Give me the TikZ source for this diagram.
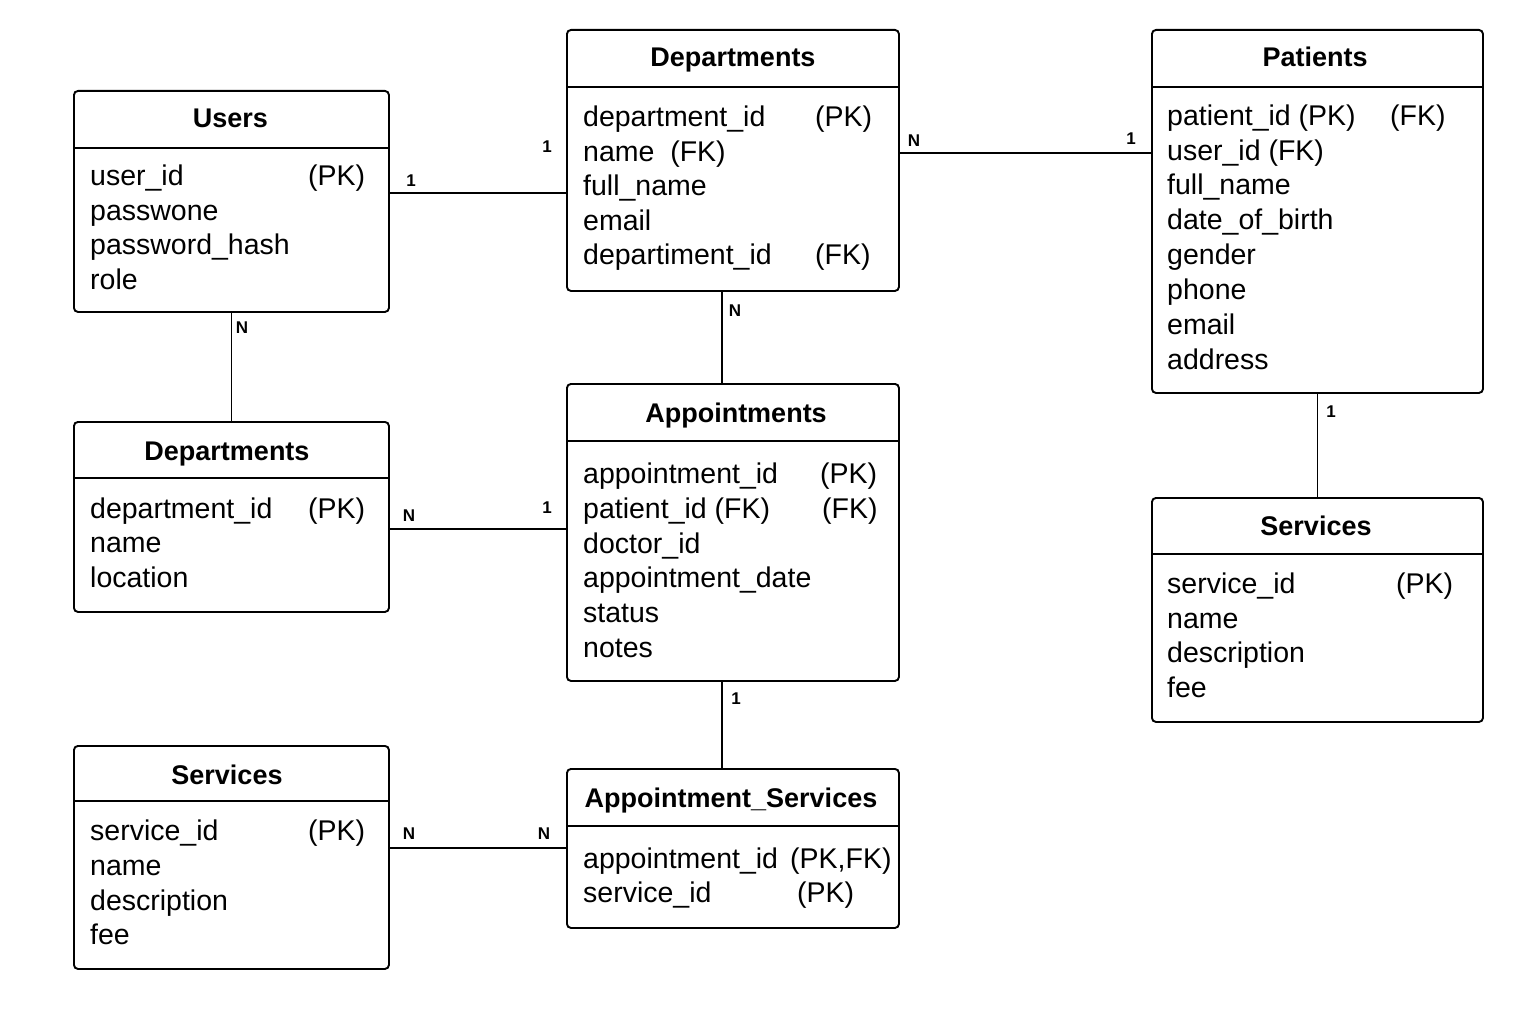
\documentclass[tikz,border=0pt]{standalone}
\usepackage{fontspec}
\setmainfont{Liberation Sans}
\begin{document}
\begin{tikzpicture}[x=1pt,y=-1pt,
  tbl/.style={draw, line width=1.9pt, rounded corners=4pt, anchor=north west, inner sep=0pt, fill=white},
  divl/.style={line width=1.6pt},
  ttl/.style={font=\bfseries\fontsize{27}{31}\selectfont, anchor=base, inner sep=0pt},
  fld/.style={font=\fontsize{28.5}{33}\selectfont, anchor=base west, inner sep=0pt},
  card/.style={font=\bfseries\fontsize{17}{19}\selectfont, inner sep=0pt, anchor=center},
  conn/.style={line width=1.5pt}]
\useasboundingbox (0,0) rectangle (1536,1024);
\fill[white] (0,0) rectangle (1536,1024);

% ---------- tables ----------
% Users
\node[tbl, minimum width=315pt, minimum height=221pt] (users) at (73,90) {};
\draw[divl] (73,148) -- (388,148);
\node[ttl] (usersT) at (230.5,128) {Users};
\node[fld] (u1) at (90,186) {user\_id};
\node[fld] (u1k) at (308,186) {(PK)};
\node[fld] (u2) at (90,221) {passwone};
\node[fld] (u3) at (90,255) {password\_hash};
\node[fld] (u4) at (90,290) {role};

% Departments (top)
\node[tbl, minimum width=332pt, minimum height=261pt] (dtop) at (566,29) {};
\draw[divl] (566,87) -- (898,87);
\node[ttl] (dtopT) at (733,67) {Departments};
\node[fld] (d1) at (583,127) {department\_id};
\node[fld] (d1k) at (815,127) {(PK)};
\node[fld] (d2) at (583,162) {name\ \ (FK)};
\node[fld] (d3) at (583,196) {full\_name};
\node[fld] (d4) at (583,231) {email};
\node[fld] (d5) at (583,265) {departiment\_id};
\node[fld] (d5k) at (815,265) {(FK)};

% Patients
\node[tbl, minimum width=331pt, minimum height=363pt] (pat) at (1151,29) {};
\draw[divl] (1151,87) -- (1482,87);
\node[ttl] (patT) at (1315,67) {Patients};
\node[fld] (p1) at (1167,126) {patient\_id\ (PK)};
\node[fld] (p1k) at (1390,126) {(FK)};
\node[fld] (p2) at (1167,161) {user\_id (FK)};
\node[fld] (p3) at (1167,195) {full\_name};
\node[fld] (p4) at (1167,230) {date\_of\_birth};
\node[fld] (p5) at (1167,265) {gender};
\node[fld] (p6) at (1167,299) {phone};
\node[fld] (p7) at (1167,334) {email};
\node[fld] (p8) at (1167,369) {address};

% Departments (left)
\node[tbl, minimum width=315pt, minimum height=190pt] (dleft) at (73,421) {};
\draw[divl] (73,478) -- (388,478);
\node[ttl] (dleftT) at (227,460) {Departments};
\node[fld] (l1) at (90,518) {department\_id};
\node[fld] (l1k) at (308,518) {(PK)};
\node[fld] (l2) at (90,552) {name};
\node[fld] (l3) at (90,587) {location};

% Appointments
\node[tbl, minimum width=332pt, minimum height=297pt] (appt) at (566,383) {};
\draw[divl] (566,441) -- (898,441);
\node[ttl] (apptT) at (736,422) {Appointments};
\node[fld] (a1) at (583,483) {appointment\_id};
\node[fld] (a1k) at (820,483) {(PK)};
\node[fld] (a2) at (583,518) {patient\_id (FK)};
\node[fld] (a2k) at (822,518) {(FK)};
\node[fld] (a3) at (583,553) {doctor\_id};
\node[fld] (a4) at (583,587) {appointment\_date};
\node[fld] (a5) at (583,622) {status};
\node[fld] (a6) at (583,657) {notes};

% Services (right)
\node[tbl, minimum width=331pt, minimum height=224pt] (srvR) at (1151,497) {};
\draw[divl] (1151,554) -- (1482,554);
\node[ttl] (srvRT) at (1316,535) {Services};
\node[fld] (r1) at (1167,593) {service\_id};
\node[fld] (r1k) at (1396,593) {(PK)};
\node[fld] (r2) at (1167,628) {name};
\node[fld] (r3) at (1167,662) {description};
\node[fld] (r4) at (1167,697) {fee};

% Services (left)
\node[tbl, minimum width=315pt, minimum height=223pt] (srvL) at (73,745) {};
\draw[divl] (73,801) -- (388,801);
\node[ttl] (srvLT) at (227,784) {Services};
\node[fld] (s1) at (90,840) {service\_id};
\node[fld] (s1k) at (308,840) {(PK)};
\node[fld] (s2) at (90,875) {name};
\node[fld] (s3) at (90,910) {description};
\node[fld] (s4) at (90,944) {fee};

% Appointment_Services
\node[tbl, minimum width=332pt, minimum height=159pt] (as) at (566,768) {};
\draw[divl] (566,826) -- (898,826);
\node[ttl] (asT) at (731,807) {Appointment\_Services};
\node[fld] (as1) at (583,868) {appointment\_id};
\node[fld] (as1k) at (790,868) {(PK,FK)};
\node[fld] (as2) at (583,902) {service\_id};
\node[fld] (as2k) at (797,902) {(PK)};

% ---------- connectors ----------
\draw[conn] (users.east |- 0,193) -- (dtop.west |- 0,193);
\draw[conn] (dtop.east |- 0,153) -- (pat.west |- 0,153);
\draw[conn] (users.south) -- (dleft.north);
\draw[conn] (dtop.south -| 722,0) -- (appt.north -| 722,0);
\draw[conn] (pat.south) -- (srvR.north);
\draw[conn] (dleft.east |- 0,529) -- (appt.west |- 0,529);
\draw[conn] (appt.south -| 722,0) -- (as.north -| 722,0);
\draw[conn] (srvL.east |- 0,848) -- (as.west |- 0,848);

% ---------- cardinalities ----------
\node[card] (c1) at (411,181) {1};
\node[card] (c2) at (547,147) {1};
\node[card] (c3) at (914,141) {N};
\node[card] (c4) at (1131,139) {1};
\node[card] (c5) at (242,328) {N};
\node[card] (c6) at (735,311) {N};
\node[card] (c7) at (1331,412) {1};
\node[card] (c8) at (409,516) {N};
\node[card] (c9) at (547,508) {1};
\node[card] (c10) at (736,699) {1};
\node[card] (c11) at (409,834) {N};
\node[card] (c12) at (544,834) {N};
\end{tikzpicture}
\end{document}
